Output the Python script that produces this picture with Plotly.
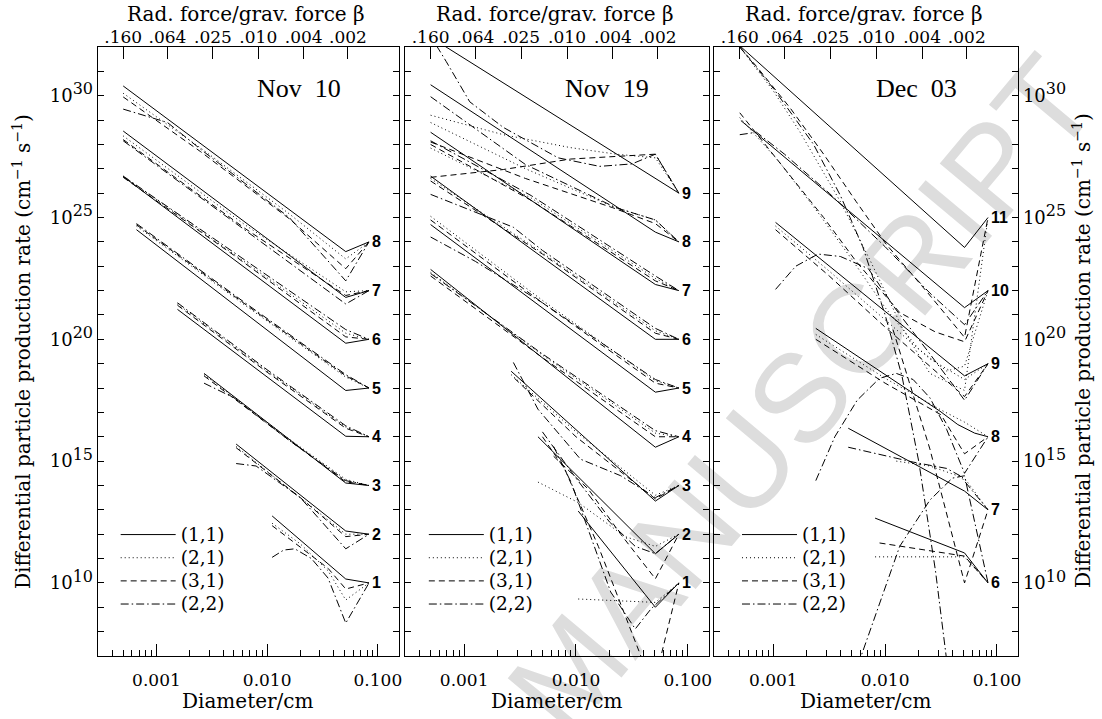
import plotly.graph_objects as go

# ---------------- axes / labels ----------------
XR = [-3.53, -0.81]          # log10 diameter range
YR = [7.0, 32.0]             # log10 rate range
D_TICKS = [0.001, 0.01, 0.1]
D_TXT = ["0.001", "0.010", "0.100"]
BETA_POS = [-3.30, -2.90, -2.49, -2.08, -1.67, -1.27]   # log10 diameter of beta ticks
BETA_TXT = [".160", ".064", ".025", ".010", ".004", ".002"]
Y_EXP = list(range(7, 33))
PANEL_TITLES = ["Nov\u00a0\u00a010", "Nov\u00a0\u00a019", "Dec\u00a0\u00a003"]
VARIANTS = ["(1,1)", "(2,1)", "(3,1)", "(2,2)"]
DASHES = ["solid", "1px,3px", "6px,4px", "8px,3px,1.5px,3px"]

# ---------------- data: (log10 diameter, log10 rate) ----------------
NOV10_LABELS = [8, 7, 6, 5, 4, 3, 2, 1]
NOV10_S = [
    [(-3.30, 30.40), (-1.29, 23.60), (-1.08, 24.0)],
    [(-3.30, 28.55), (-1.29, 21.72), (-1.08, 22.0)],
    [(-3.30, 26.68), (-1.29, 19.84), (-1.08, 20.0)],
    [(-3.18, 24.50), (-1.29, 17.90), (-1.08, 18.0)],
    [(-2.81, 21.23), (-1.29, 16.02), (-1.08, 16.0)],
    [(-2.57, 18.60), (-1.29, 14.10), (-1.08, 14.0)],
    [(-2.28, 15.70), (-1.29, 12.13), (-1.08, 12.0)],
    [(-1.955, 12.75), (-1.29, 10.16), (-1.08, 10.0)],
]
NOV10_DOT = [
    [(-3.30, 30.10), (-2.60, 27.85), (-1.80, 25.15), (-1.29, 23.30), (-1.08, 24.0)],
    [(-3.30, 28.35), (-2.20, 24.70), (-1.29, 21.95), (-1.08, 22.0)],
    [(-3.30, 26.70), (-2.30, 23.50), (-1.29, 20.25), (-1.08, 20.0)],
    [(-3.18, 24.65), (-2.20, 21.40), (-1.29, 18.45), (-1.08, 18.0)],
    [(-2.81, 21.45), (-2.00, 18.70), (-1.29, 16.40), (-1.08, 16.0)],
    [(-2.57, 18.55), (-1.80, 15.90), (-1.29, 14.25), (-1.08, 14.0)],
    [(-2.28, 15.60), (-1.70, 13.50), (-1.29, 12.00), (-1.08, 12.0)],
    [(-1.955, 12.45), (-1.70, 11.60), (-1.45, 10.50), (-1.29, 9.30), (-1.08, 10.0)],
]
NOV10_DASH = [
    [(-3.30, 29.95), (-2.60, 27.70), (-1.80, 24.95), (-1.29, 22.90), (-1.08, 24.0)],
    [(-3.30, 28.20), (-2.20, 24.55), (-1.29, 21.80), (-1.08, 22.0)],
    [(-3.30, 26.65), (-2.30, 23.45), (-1.29, 20.10), (-1.08, 20.0)],
    [(-3.18, 24.70), (-2.20, 21.45), (-1.29, 18.50), (-1.08, 18.0)],
    [(-2.81, 21.40), (-2.00, 18.65), (-1.29, 16.35), (-1.08, 16.0)],
    [(-2.57, 18.50), (-1.80, 15.85), (-1.29, 14.15), (-1.08, 14.0)],
    [(-2.28, 15.55), (-1.70, 13.50), (-1.29, 11.90), (-1.08, 12.0)],
    [(-1.955, 12.35), (-1.70, 11.45), (-1.45, 10.60), (-1.29, 9.75), (-1.08, 10.0)],
]
NOV10_DD = [
    [(-3.30, 29.45), (-2.90, 28.90), (-2.60, 27.80), (-1.80, 25.00), (-1.29, 22.40), (-1.08, 24.0)],
    [(-3.30, 28.15), (-2.20, 24.50), (-1.29, 21.45), (-1.08, 22.0)],
    [(-3.30, 26.70), (-2.30, 23.55), (-1.29, 20.40), (-1.08, 20.0)],
    [(-3.18, 24.75), (-2.20, 21.50), (-1.29, 18.55), (-1.08, 18.0)],
    [(-2.81, 21.50), (-2.00, 18.75), (-1.29, 16.45), (-1.08, 16.0)],
    [(-2.57, 18.20), (-2.30, 17.60), (-1.80, 15.85), (-1.29, 14.20), (-1.08, 14.0)],
    [(-2.28, 14.90), (-2.10, 14.80), (-1.70, 13.50), (-1.29, 11.40), (-1.08, 12.0)],
    [(-1.955, 11.05), (-1.85, 11.35), (-1.75, 11.40), (-1.60, 11.00), (-1.45, 10.20), (-1.29, 8.35), (-1.08, 10.0)],
]

NOV19_LABELS = [9, 8, 7, 6, 5, 4, 3, 2, 1]
NOV19_S = [
    [(-3.30, 32.40), (-1.29, 26.60), (-1.08, 26.0)],
    [(-3.30, 30.45), (-1.29, 24.40), (-1.08, 24.0)],
    [(-3.30, 28.50), (-1.29, 22.25), (-1.08, 22.0)],
    [(-3.30, 26.70), (-1.29, 20.00), (-1.08, 20.0)],
    [(-3.30, 24.71), (-1.29, 17.83), (-1.08, 18.0)],
    [(-3.30, 22.87), (-1.29, 15.57), (-1.08, 16.0)],
    [(-2.58, 18.69), (-1.29, 13.36), (-1.08, 14.0)],
    [(-2.34, 16.00), (-1.29, 11.20), (-1.08, 12.0)],
    [(-1.98, 12.95), (-1.29, 9.00), (-1.08, 10.0)],
]
NOV19_DOT = [
    [(-3.30, 29.20), (-2.65, 28.40), (-2.05, 27.87), (-1.64, 27.60), (-1.29, 27.45), (-1.08, 26.0)],
    [(-3.30, 28.90), (-2.45, 27.00), (-1.67, 25.45), (-1.29, 24.90), (-1.08, 24.0)],
    [(-3.30, 27.85), (-2.40, 25.80), (-1.29, 22.50), (-1.08, 22.0)],
    [(-3.30, 26.60), (-2.30, 23.55), (-1.29, 20.35), (-1.08, 20.0)],
    [(-3.30, 25.05), (-2.30, 21.60), (-1.29, 18.30), (-1.08, 18.0)],
    [(-3.30, 22.75), (-2.30, 19.35), (-1.29, 16.15), (-1.08, 16.0)],
    [(-2.58, 18.55), (-2.00, 16.20), (-1.29, 13.60), (-1.08, 14.0)],
    [(-2.34, 14.14), (-1.98, 13.30), (-1.56, 11.90), (-1.29, 11.50), (-1.08, 12.0)],
    [(-1.98, 9.34), (-1.29, 9.20), (-1.08, 10.0)],
]
NOV19_DASH = [
    [(-3.30, 26.65), (-2.65, 26.97), (-2.05, 27.40), (-1.64, 27.50), (-1.29, 27.60), (-1.08, 26.0)],
    [(-3.30, 28.10), (-2.45, 26.60), (-1.67, 25.40), (-1.29, 24.75), (-1.08, 24.0)],
    [(-3.30, 28.00), (-2.40, 25.70), (-1.29, 22.40), (-1.08, 22.0)],
    [(-3.30, 26.50), (-2.30, 23.50), (-1.29, 20.25), (-1.08, 20.0)],
    [(-3.30, 24.90), (-2.30, 21.50), (-1.29, 18.20), (-1.08, 18.0)],
    [(-3.30, 22.60), (-2.30, 19.25), (-1.29, 16.00), (-1.08, 16.0)],
    [(-2.55, 18.40), (-2.00, 16.00), (-1.29, 13.45), (-1.08, 14.0)],
    [(-2.20, 15.20), (-1.89, 13.85), (-1.60, 12.00), (-1.29, 10.17), (-1.08, 12.0)],
    [(-2.30, 16.00), (-2.10, 14.67), (-1.80, 11.50), (-1.42, 7.00), (-1.33, 5.50), (-1.24, 7.00), (-1.08, 10.0)],
]
NOV19_DD = [
    [(-3.32, 32.60), (-3.16, 31.40), (-2.95, 29.75), (-2.65, 28.70), (-2.16, 27.45), (-1.79, 27.10), (-1.50, 27.20), (-1.29, 27.60), (-1.08, 26.0)],
    [(-3.30, 29.96), (-2.45, 27.17), (-1.64, 25.40), (-1.29, 24.90), (-1.08, 24.0)],
    [(-3.30, 28.15), (-2.40, 25.90), (-1.29, 22.60), (-1.08, 22.0)],
    [(-3.30, 25.95), (-2.56, 24.60), (-2.30, 23.65), (-1.29, 20.45), (-1.08, 20.0)],
    [(-3.30, 24.20), (-2.90, 23.20), (-2.30, 21.50), (-1.29, 18.35), (-1.08, 18.0)],
    [(-3.30, 22.70), (-2.30, 19.40), (-1.29, 16.25), (-1.08, 16.0)],
    [(-2.56, 19.05), (-2.34, 17.13), (-1.96, 15.08), (-1.60, 14.40), (-1.29, 13.50), (-1.08, 14.0)],
    [(-2.30, 16.20), (-2.00, 14.30), (-1.70, 12.50), (-1.47, 11.50), (-1.29, 11.20), (-1.08, 12.0)],
    [(-2.20, 15.60), (-2.045, 14.14), (-1.87, 11.93), (-1.69, 9.63), (-1.47, 8.11), (-1.33, 8.93), (-1.08, 10.0)],
]

DEC03_LABELS = [11, 10, 9, 8, 7, 6]
DEC03_S = [
    [(-3.30, 32.05), (-1.29, 23.77), (-1.08, 25.0)],
    [(-3.29, 28.98), (-1.29, 21.30), (-1.08, 22.0)],
    [(-2.98, 24.80), (-1.29, 18.50), (-1.08, 19.0)],
    [(-2.62, 20.45), (-1.51, 17.05), (-1.35, 16.50), (-1.20, 16.15), (-1.08, 16.0)],
    [(-2.33, 16.35), (-1.29, 13.77), (-1.08, 13.0)],
    [(-2.09, 12.66), (-1.29, 11.23), (-1.08, 10.0)],
]
DEC03_DOT = [
    [(-3.30, 32.00), (-3.00, 30.20), (-2.76, 28.50), (-2.40, 25.65), (-2.13, 23.20), (-1.85, 20.50), (-1.60, 18.60), (-1.29, 17.90), (-1.08, 25.0)],
    [(-3.30, 29.10), (-2.95, 27.30), (-2.60, 25.20), (-2.30, 23.30), (-2.00, 21.30), (-1.70, 19.60), (-1.45, 18.70), (-1.29, 18.90), (-1.08, 22.0)],
    [(-2.98, 24.65), (-2.50, 22.80), (-2.00, 20.80), (-1.60, 19.20), (-1.29, 18.35), (-1.08, 19.0)],
    [(-2.62, 20.20), (-2.00, 18.40), (-1.50, 17.10), (-1.29, 16.60), (-1.08, 16.0)],
    [(-1.90, 15.00), (-1.60, 14.80), (-1.29, 14.30), (-1.08, 13.0)],
    [(-2.09, 11.07), (-1.29, 11.07), (-1.08, 10.0)],
]
DEC03_DASH = [
    [(-3.30, 32.00), (-3.15, 31.20), (-2.85, 29.50), (-2.55, 27.60), (-2.26, 25.66), (-1.99, 23.90), (-1.63, 21.97), (-1.29, 20.08), (-1.08, 25.0)],
    [(-3.30, 29.30), (-2.85, 26.70), (-2.55, 25.00), (-2.26, 23.20), (-1.87, 21.10), (-1.55, 20.30), (-1.29, 19.90), (-1.08, 22.0)],
    [(-2.98, 24.50), (-2.50, 22.60), (-2.00, 20.50), (-1.60, 18.90), (-1.29, 17.65), (-1.08, 19.0)],
    [(-2.62, 20.00), (-2.00, 18.20), (-1.50, 16.90), (-1.29, 15.30), (-1.08, 16.0)],
    [(-1.93, 20.40), (-1.60, 15.50), (-1.29, 10.00), (-1.08, 13.0)],
    [(-2.05, 11.64), (-1.29, 11.10), (-1.08, 10.0)],
]
DEC03_DD = [
    [(-3.30, 32.00), (-3.00, 30.30), (-2.64, 28.00), (-2.40, 25.90), (-2.20, 23.80), (-2.00, 21.00), (-1.85, 18.50), (-1.70, 15.00), (-1.55, 10.50), (-1.45, 7.00), (-1.40, 5.00)],
    [(-3.30, 28.40), (-3.15, 28.50), (-2.90, 27.60), (-2.50, 26.00), (-2.00, 23.80), (-1.60, 21.90), (-1.29, 20.60), (-1.08, 22.0)],
    [(-2.98, 22.05), (-2.80, 23.00), (-2.60, 23.50), (-2.40, 23.40), (-2.15, 22.90), (-1.90, 21.20), (-1.60, 19.40), (-1.29, 17.50), (-1.08, 19.0)],
    [(-2.62, 14.20), (-2.45, 16.00), (-2.25, 17.50), (-2.05, 18.40), (-1.90, 18.60), (-1.75, 18.35), (-1.60, 17.60), (-1.45, 16.30), (-1.29, 14.50), (-1.08, 16.0)],
    [(-2.33, 15.57), (-1.75, 14.96), (-1.45, 14.70), (-1.33, 14.40), (-1.08, 13.0)],
    [(-2.25, 6.00), (-2.21, 7.06), (-1.87, 11.50), (-1.60, 13.40), (-1.40, 14.30), (-1.29, 14.40), (-1.08, 10.0)],
]

PANELS = [
    (NOV10_LABELS, [NOV10_S, NOV10_DOT, NOV10_DASH, NOV10_DD]),
    (NOV19_LABELS, [NOV19_S, NOV19_DOT, NOV19_DASH, NOV19_DD]),
    (DEC03_LABELS, [DEC03_S, DEC03_DOT, DEC03_DASH, DEC03_DD]),
]

# ---------------- layout geometry ----------------
W, H = 1102, 719
X_DOM = [(98, 400), (406, 711), (716, 1021)]
Y_TOP, Y_BOT = 47, 656
SERIF = "DejaVu Serif"

fig = go.Figure()

for p, (labels, variants) in enumerate(PANELS):
    xa = "x" if p == 0 else f"x{p+1}"
    ya = "y" if p == 0 else f"y{p+1}"
    for v, curves in enumerate(variants):
        for curve in curves:
            fig.add_trace(go.Scatter(
                x=[10.0 ** c[0] for c in curve], y=[10.0 ** c[1] for c in curve],
                mode="lines", xaxis=xa, yaxis=ya, showlegend=False,
                line=dict(color="black", width=1, dash=DASHES[v]), hoverinfo="skip"))
    lg = "legend" if p == 0 else f"legend{p+1}"
    for v, name in enumerate(VARIANTS):
        fig.add_trace(go.Scatter(
            x=[None], y=[None], mode="lines",
            name=f"<span style='font-size:18.5px'>{name}</span>",
            xaxis=xa, yaxis=ya, legend=lg, showlegend=True,
            line=dict(color="black", width=1, dash=DASHES[v])))
    for lab, curve in zip(labels, variants[0]):
        fig.add_annotation(x=curve[-1][0], y=curve[-1][1], xref=xa, yref=ya,
                           text=f"<b>{lab}</b>", showarrow=False, xanchor="left",
                           yanchor="middle", xshift=1,
                           font=dict(family="Liberation Sans", size=16, color="black"))
    fig.add_trace(go.Scatter(x=[None], y=[None], xaxis=f"x{p+4}", yaxis=ya,
                             showlegend=False, hoverinfo="skip"))

minor_x = [m * 10.0 ** e for e in (-4, -3, -2, -1) for m in range(2, 10)]
ylab = [f"10<sup><span style='font-size:16px'>{e}</span></sup>" if e % 5 == 0 else ""
        for e in Y_EXP]

layout = dict(
    width=W, height=H, margin=dict(l=0, r=0, t=0, b=0),
    paper_bgcolor="white", plot_bgcolor="rgba(0,0,0,0)",
    font=dict(family=SERIF, color="black"),
    showlegend=True,
)
ydom = [1 - Y_BOT / H, 1 - Y_TOP / H]
for p in range(3):
    dom = [X_DOM[p][0] / W, X_DOM[p][1] / W]
    xk = "xaxis" if p == 0 else f"xaxis{p+1}"
    yk = "yaxis" if p == 0 else f"yaxis{p+1}"
    ya = "y" if p == 0 else f"y{p+1}"
    xa = "x" if p == 0 else f"x{p+1}"
    layout[xk] = dict(
        type="log", range=XR, domain=dom, anchor=ya,
        showline=True, linecolor="black", linewidth=1.2, mirror=True,
        ticks="inside", ticklen=12, tickwidth=1, tickcolor="black",
        tickmode="array", tickvals=D_TICKS, ticktext=D_TXT,
        tickfont=dict(family=SERIF, size=17), ticklabelstandoff=8,
        minor=dict(ticks="inside", ticklen=6, tickwidth=1, tickcolor="black",
                   tickmode="array", tickvals=minor_x, showgrid=False),
        showgrid=False, zeroline=False, fixedrange=True,
    )
    layout[f"xaxis{p+4}"] = dict(
        type="log", range=XR, overlaying=xa, anchor=ya, side="top",
        showline=False, ticks="inside", ticklen=12, tickwidth=1, tickcolor="black",
        tickmode="array", tickvals=[10.0 ** b for b in BETA_POS], ticktext=BETA_TXT,
        tickfont=dict(family=SERIF, size=17), ticklabelstandoff=0,
        showgrid=False, zeroline=False, fixedrange=True,
    )
    layout[yk] = dict(
        type="log", range=YR, domain=ydom, anchor=xa,
        side="right" if p == 2 else "left",
        showline=True, linecolor="black", linewidth=1.2, mirror="ticks",
        ticks="inside", ticklen=6, tickwidth=1, tickcolor="black",
        tickmode="array", tickvals=[10.0 ** e for e in Y_EXP], ticktext=ylab,
        showticklabels=(p != 1),
        tickfont=dict(family=SERIF, size=18),
        showgrid=False, zeroline=False, fixedrange=True,
    )
    cx = [300, 609, 919][p]
    fig.add_annotation(x=cx / W, y=1 - 89 / H, xref="paper", yref="paper",
                       xanchor="center", yanchor="middle",
                       text=PANEL_TITLES[p], showarrow=False,
                       font=dict(family="Liberation Serif", size=26, color="black"))
    mid = (X_DOM[p][0] + X_DOM[p][1]) / 2
    fig.add_annotation(x=mid / W, y=1 - 701 / H, xref="paper", yref="paper",
                       xanchor="center", yanchor="middle",
                       text="Diameter/cm", showarrow=False,
                       font=dict(family=SERIF, size=20, color="black"))
    fig.add_annotation(x=(mid - 2) / W, y=1 - 14 / H, xref="paper", yref="paper",
                       xanchor="center", yanchor="middle",
                       text="Rad. force/grav. force \u03b2", showarrow=False,
                       font=dict(family=SERIF, size=20, color="black"))
    lk = "legend" if p == 0 else f"legend{p+1}"
    layout[lk] = dict(
        x=[116, 425, 739][p] / W, y=1 - 518 / H, xanchor="left", yanchor="top",
        bgcolor="rgba(0,0,0,0)", borderwidth=0, itemwidth=55,
        font=dict(family=SERIF, size=15.5, color="black"), tracegroupgap=0,
    )

ytitle = "Differential particle production rate (cm<sup>\u22121</sup> s<sup>\u22121</sup>)"
for tx in (22, 1085):
    fig.add_annotation(x=tx / W, y=1 - 351 / H, xref="paper", yref="paper", text=ytitle,
                       xanchor="center", yanchor="middle",
                       textangle=-90, showarrow=False,
                       font=dict(family=SERIF, size=20, color="black"))

layout["shapes"] = [dict(
    type="rect", xref="paper", yref="paper",
    x0=795 / W - 0.2, x1=795 / W + 0.2, y0=1 - 387 / H - 0.2, y1=1 - 387 / H + 0.2,
    line=dict(width=0), fillcolor="rgba(0,0,0,0)", layer="below",
    label=dict(text="MANUSCRIPT", textangle=-50, textposition="middle center",
               font=dict(family="Liberation Sans", size=126, color="#dddddd")),
)]

fig.update_layout(**layout)
fig.write_html("out.html")
